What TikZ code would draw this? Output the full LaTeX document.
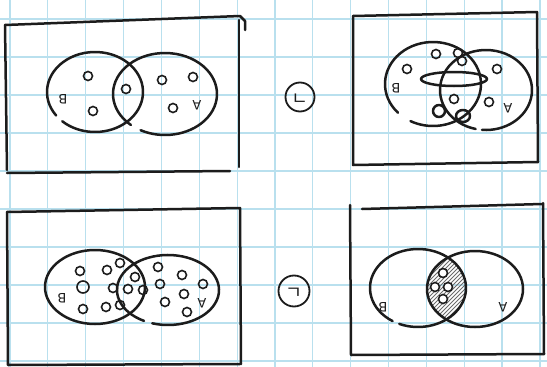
\documentclass[tikz,border=0pt]{standalone}
\usepackage{fontspec}
\setsansfont{DejaVu Sans}
\newfontfamily\kfont{Noto Sans CJK KR}
\definecolor{gridblue}{RGB}{185,224,238}
\definecolor{ink}{RGB}{28,28,28}
\newcommand\brokenell[6]{\draw[pen] (#1,#2) ++(#5:#3 and #4) arc[start angle=#5,end angle=#6,x radius=#3,y radius=#4];}
\begin{document}
\begin{tikzpicture}[x=1pt,y=-1pt,
  pen/.style={line width=2.5pt, draw=ink, line cap=round, line join=round},
  dot/.style={draw=ink, line width=1.6pt, circle, minimum size=9pt, inner sep=0pt},
  bigdot/.style={dot, minimum size=12pt},
  lbl/.style={font=\sffamily\fontsize{13}{13}\selectfont, rotate=180, text=ink, inner sep=0pt},
  stepmark/.style={draw=ink, line width=1.8pt, circle, minimum size=29pt, inner sep=0pt,
    font=\kfont\fontsize{18}{18}\selectfont, text=ink, rotate=180},
  gridline/.style={line width=1.2pt, draw=gridblue}]
\fill[white] (0,0) rectangle (547,367);
\useasboundingbox (0,0) rectangle (547,367);
% graph paper
\foreach \i in {0,...,14} \draw[gridline] ({10+37.85*\i},0) -- ({10+37.85*\i},367);
\foreach \j in {0,...,9} \draw[gridline] (0,{19+38*\j}) -- (547,{19+38*\j});

% ---------- panel 1 (top left) ----------
\draw[pen] (5,25) -- (240,16) -- (245,21) -- (245,30);
\draw[pen] (239,20) -- (239,167);
\draw[pen] (5,25) -- (7,170);
\draw[pen] (7,173) -- (230,171);
\brokenell{95}{92}{48}{40}{144}{493}
\brokenell{165}{94}{52}{41}{131}{478}
\node[dot] (d11) at (88,76) {};
\node[dot] (d12) at (93,111) {};
\node[dot] (d13) at (126,89) {};
\node[dot] (d14) at (162,80) {};
\node[dot] (d15) at (193,77) {};
\node[dot] (d16) at (173,108) {};
\node[lbl] (lb1) at (63,99) {B};
\node[lbl] (la1) at (197,105) {A};

% ---------- panel 2 (top right) ----------
\draw[pen] (353,16) -- (537,12) -- (538,162);
\draw[pen] (353,16) -- (353,165) -- (538,162);
\brokenell{433}{84}{48}{42}{137}{478}
\brokenell{486}{90}{46}{40}{103}{455}
\draw[pen] (454,79) ellipse[x radius=33, y radius=7];
\draw[pen] (439,111) ellipse[x radius=6, y radius=6];
\draw[pen] (463,116) ellipse[x radius=7, y radius=6];
\node[dot] (d21) at (407,69) {};
\node[dot] (d22) at (436,54) {};
\node[dot] (d23) at (458,53) {};
\node[dot] (d24) at (462,61) {};
\node[dot] (d25) at (497,69) {};
\node[dot] (d26) at (454,99) {};
\node[dot] (d27) at (489,102) {};
\node[lbl] (lb2) at (396,88) {B};
\node[lbl] (la2) at (508,108) {A};

% ---------- panel 3 (bottom left) ----------
\draw[pen] (7,212) -- (240,208) -- (241,364);
\draw[pen] (7,212) -- (8,365) -- (240,364);
\brokenell{95}{287}{50}{37}{0}{360}
\brokenell{168}{290}{51}{35}{118}{468}
\foreach \x/\y [count=\n] in {80/271,107/270,120/263,135/277,113/288,128/289,143/290,83/309,106/307,120/305,158/267,182/275,160/284,203/284,184/294,165/302,187/312}
  \node[dot] (d3\n) at (\x,\y) {};
\node[bigdot] (d3c) at (83,287) {};
\node[lbl] (lb3) at (62,298) {B};
\node[lbl] (la3) at (202,303) {A};

% ---------- panel 4 (bottom right) ----------
\draw[pen] (362,209) -- (542,204);
\draw[pen] (543,203) -- (544,354);
\draw[pen] (350,205) -- (351,355) -- (544,354);
\begin{scope}
  \clip (418,288) ellipse[x radius=48, y radius=39];
  \clip (475,289) ellipse[x radius=48, y radius=38];
  \foreach \k in {-80,-76,...,80}
    \draw[line width=0.8pt, ink!65] ({446+\k-50},{288+50}) -- ({446+\k+50},{288-50});
\end{scope}
\brokenell{418}{288}{48}{39}{122}{473}
\brokenell{475}{289}{48}{38}{0}{360}
\node[dot, fill=white] (d41) at (443,273) {};
\node[dot, fill=white] (d42) at (435,287) {};
\node[dot, fill=white] (d43) at (448,287) {};
\node[dot, fill=white] (d44) at (443,299) {};
\node[lbl] (lb4) at (383,307) {B};
\node[lbl] (la4) at (503,307) {A};

% ---------- marks between panels ----------
\node[stepmark] (m1) at (300,97) {ㄱ};
\node[stepmark, minimum size=31pt] (m2) at (294,291) {ㄴ};
\end{tikzpicture}
\end{document}
